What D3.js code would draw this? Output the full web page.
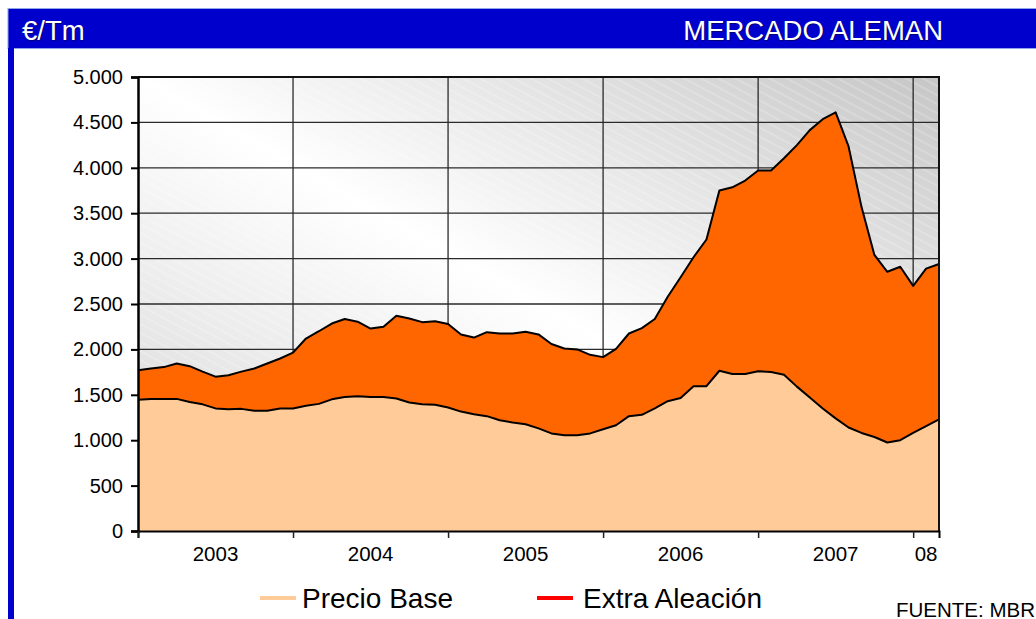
<!DOCTYPE html>
<html>
<head>
<meta charset="utf-8">
<script src="https://cdn.jsdelivr.net/npm/d3@7"></script>
<style>
  body { margin: 0; background: #fff; }
  svg { display: block; font-family: "Liberation Sans", Arial, sans-serif; }
</style>
</head>
<body>
<svg width="1036" height="619"></svg>
<script>
// monthly values, Jan 2003 .. Mar 2008 (€/Tm)
const baseValues = [1445, 1455, 1455, 1455, 1420, 1395, 1350, 1340, 1345, 1325, 1325, 1350,
  1350, 1380, 1400, 1450, 1475, 1485, 1475, 1475, 1460, 1415, 1395, 1390,
  1360, 1315, 1285, 1265, 1220, 1195, 1175, 1130, 1075, 1055, 1055, 1075,
  1120, 1165, 1265, 1280, 1350, 1430, 1465, 1595, 1595, 1765, 1730, 1730,
  1760, 1750, 1720, 1590, 1470, 1350, 1240, 1140, 1080, 1035, 975, 1000,
  1080, 1155, 1230];
const extraValues = [325, 335, 350, 390, 395, 360, 350, 375, 410, 465, 520, 550,
  615, 740, 800, 835, 860, 820, 755, 775, 910, 925, 905, 920,
  920, 850, 845, 925, 955, 980, 1020, 1035, 985, 955, 945, 865,
  795, 840, 910, 955, 985, 1150, 1330, 1420, 1615, 1985, 2055, 2130,
  2210, 2220, 2385, 2660, 2945, 3185, 3370, 3095, 2490, 2005, 1880, 1910,
  1620, 1735, 1710];
const yearLabels = ["2003", "2004", "2005", "2006", "2007", "08"];
const yearStarts = [0, 12, 24, 36, 48, 60];
const yTicks = [0, 500, 1000, 1500, 2000, 2500, 3000, 3500, 4000, 4500, 5000];
const seriesNames = ["Precio Base", "Extra Aleación"];
const seriesFill = ["#FFCC99", "#FF6600"];
const legendColor = ["#FFCC99", "#FF0000"];

const svg = d3.select("svg");
const W = 1036, H = 619;
const pLeft = 138, pRight = 939, pTop = 77, pBottom = 531;
const lastMonth = baseValues.length - 1;

svg.append("rect").attr("width", W).attr("height", H).attr("fill", "#fff");

// header band and left strip
svg.append("rect").attr("x", 8).attr("y", 8.5).attr("width", W).attr("height", 40)
  .attr("fill", "#0000CC").attr("stroke", "#8FA6E8").attr("stroke-width", 1);
svg.append("rect").attr("x", 8).attr("y", 48).attr("width", 6).attr("height", H - 48)
  .attr("fill", "#0000CC");
const hdr = svg.append("g").attr("font-size", 27.5);
[[1, 1, "#000033", 0.55], [0, 0, "#fff", 1]].forEach(([dx, dy, c, o]) => {
  hdr.append("text").attr("x", 22 + dx).attr("y", 40 + dy).attr("fill", c).attr("opacity", o).text("€/Tm");
  hdr.append("text").attr("x", 943 + dx).attr("y", 40 + dy).attr("fill", c).attr("opacity", o)
    .attr("text-anchor", "end").text("MERCADO ALEMAN");
});

const x = d3.scaleLinear().domain([0, lastMonth]).range([pLeft, pRight]);
const y = d3.scaleLinear().domain([0, 5000]).range([pBottom, pTop]);

// plot background
const defs = svg.append("defs");
const grad = defs.append("linearGradient").attr("id", "bg")
  .attr("x1", 1).attr("y1", 0).attr("x2", 0).attr("y2", 1);
grad.append("stop").attr("offset", 0).attr("stop-color", "#C6C6C6");
grad.append("stop").attr("offset", 0.5).attr("stop-color", "#FFFFFF");
grad.append("stop").attr("offset", 1).attr("stop-color", "#D4D4D4");
const pat = defs.append("pattern").attr("id", "hatch").attr("patternUnits", "userSpaceOnUse")
  .attr("width", 20).attr("height", 8).attr("patternTransform", "rotate(28)");
pat.append("line").attr("x1", 0).attr("x2", 20).attr("y1", 4).attr("y2", 4)
  .attr("stroke", "#fff").attr("stroke-width", 1).attr("opacity", 0.35);

svg.append("rect").attr("x", pLeft).attr("y", pTop).attr("width", pRight - pLeft).attr("height", pBottom - pTop)
  .attr("fill", "url(#bg)");
svg.append("rect").attr("x", pLeft).attr("y", pTop).attr("width", pRight - pLeft).attr("height", pBottom - pTop)
  .attr("fill", "url(#hatch)");

// grid
const grid = svg.append("g").attr("stroke", "#2a2a2a").attr("stroke-width", 1.3);
grid.selectAll(".h").data(yTicks.slice(1)).join("line")
  .attr("x1", pLeft).attr("x2", pRight).attr("y1", d => y(d)).attr("y2", d => y(d));
grid.selectAll(".v").data(yearStarts.slice(1)).join("line")
  .attr("y1", pTop).attr("y2", pBottom).attr("x1", d => x(d)).attr("x2", d => x(d));

// stacked areas
const rows = baseValues.map((b, i) => ({ i, base: b, extra: extraValues[i] }));
const stacked = d3.stack().keys(["base", "extra"])(rows);
const area = d3.area().x(d => x(d.data.i)).y0(d => y(d[0])).y1(d => y(d[1]));
const topLine = d3.line().x(d => x(d.data.i)).y(d => y(d[1]));

svg.append("g").selectAll("path").data(stacked).join("path")
  .attr("d", area).attr("fill", (d, k) => seriesFill[k]);
svg.append("g").selectAll("path").data(stacked).join("path")
  .attr("d", topLine).attr("fill", "none").attr("stroke", "#000")
  .attr("stroke-width", 2).attr("stroke-linejoin", "round");

// frame
svg.append("path")
  .attr("d", `M${pLeft},${pTop}H${pRight}V${pBottom}`)
  .attr("fill", "none").attr("stroke", "#111").attr("stroke-width", 2);

// axes
const loc = d3.formatLocale({ decimal: ",", thousands: ".", grouping: [3], currency: ["", "€"] });
const yAxis = svg.append("g").attr("transform", `translate(${pLeft},0)`)
  .call(d3.axisLeft(y).tickValues(yTicks).tickSize(7).tickPadding(8).tickFormat(loc.format(",")));
yAxis.select(".domain").attr("stroke", "#000").attr("stroke-width", 2.5);
yAxis.selectAll(".tick line").attr("stroke", "#000").attr("stroke-width", 2);
yAxis.selectAll("text").attr("font-size", 20).attr("font-family", "Liberation Sans, Arial, sans-serif").attr("fill", "#000");

const xAxis = svg.append("g").attr("transform", `translate(0,${pBottom})`)
  .call(d3.axisBottom(x).tickValues(yearStarts).tickSize(7).tickFormat(""));
xAxis.select(".domain").attr("stroke", "#000").attr("stroke-width", 2);
xAxis.selectAll(".tick line").attr("stroke", "#222").attr("stroke-width", 1.5);

svg.append("g").selectAll("text").data(yearLabels).join("text")
  .attr("x", (d, k) => x((yearStarts[k] + (k + 1 < yearStarts.length ? yearStarts[k + 1] : lastMonth)) / 2))
  .attr("y", 561).attr("text-anchor", "middle").attr("font-size", 20.5).attr("fill", "#000")
  .text(d => d);

// legend
const legX = [260, 537];
const legText = [302, 583];
const leg = svg.append("g").selectAll("g").data(seriesNames).join("g");
leg.append("line").attr("x1", (d, k) => legX[k]).attr("x2", (d, k) => legX[k] + 36)
  .attr("y1", 598).attr("y2", 598)
  .attr("stroke", (d, k) => legendColor[k]).attr("stroke-width", 4);
leg.append("text").attr("x", (d, k) => legText[k]).attr("y", 608).attr("font-size", 28)
  .attr("fill", "#000").text(d => d);

svg.append("text").attr("x", 896).attr("y", 617).attr("font-size", 20.5).attr("fill", "#000")
  .text("FUENTE: MBR");
</script>
</body>
</html>
